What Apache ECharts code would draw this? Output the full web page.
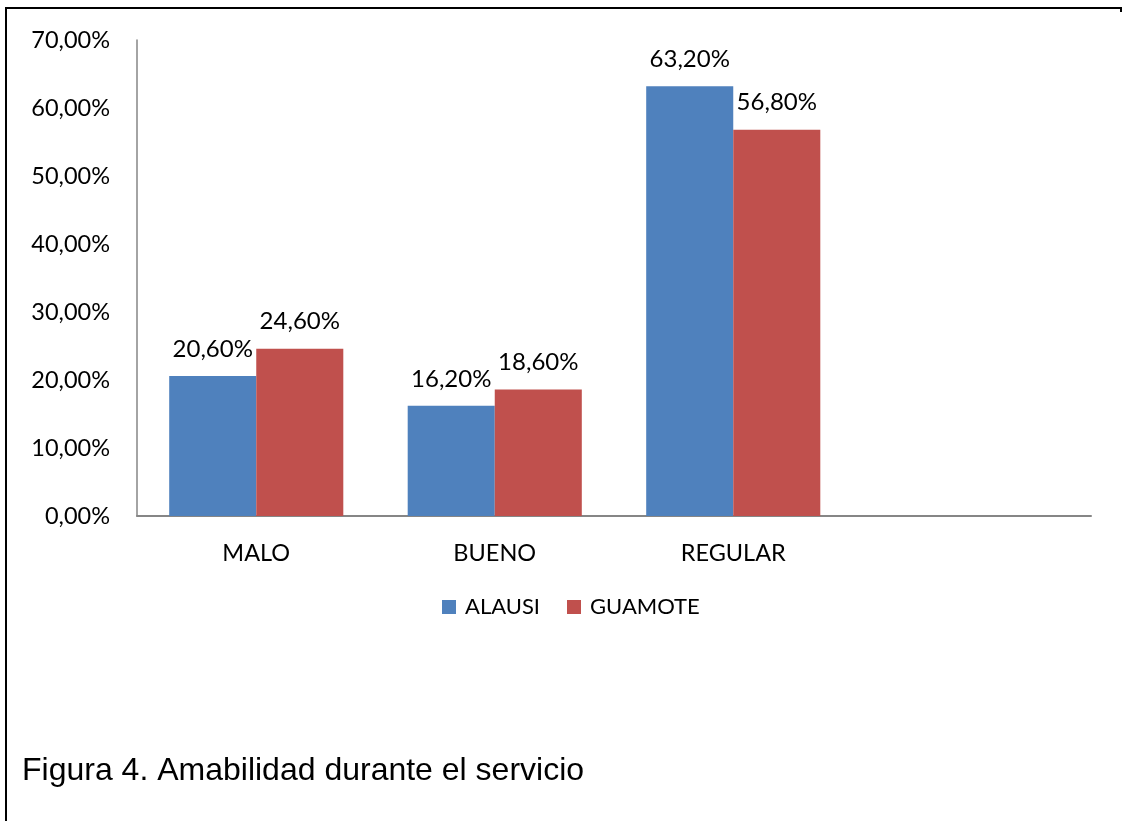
<!DOCTYPE html>
<html><head><meta charset="utf-8">
<script src="https://cdn.jsdelivr.net/npm/echarts@6/dist/echarts.min.js"></script>
<style>html,body{margin:0;padding:0;background:#fff}#c{width:1123px;height:821px}</style>
</head><body><div id="c"></div>
<script>
const categories = ['MALO', 'BUENO', 'REGULAR', ''];
const alausi = [20.6, 16.2, 63.2, '-'];
const guamote = [24.6, 18.6, 56.8, '-'];
const yTicks = {min: 0, max: 70, interval: 10};
const titleText = 'Figura 4. Amabilidad durante el servicio';

const fmt = v => v.toFixed(2).replace('.', ',') + '%';
const FONT = 'Lato';
const chart = echarts.init(document.getElementById('c'));
chart.setOption({
  animation: false,
  backgroundColor: '#fff',
  textStyle: {fontFamily: FONT},
  grid: {left: 137, right: 32, top: 40, bottom: 305, containLabel: false},
  legend: {
    data: ['ALAUSI', 'GUAMOTE'], top: 591, left: 437,
    itemWidth: 14, itemHeight: 14, itemGap: 27, icon: 'rect',
    textStyle: {fontFamily: FONT, fontSize: 22, color: '#000', padding: [0,0,0,4]}
  },
  xAxis: {
    type: 'category', data: categories,
    axisLine: {lineStyle: {color: '#868686', width: 2}},
    axisTick: {show: false},
    axisLabel: {fontFamily: FONT, fontSize: 23.5, color: '#000', margin: 25}
  },
  yAxis: {
    type: 'value', min: yTicks.min, max: yTicks.max, interval: yTicks.interval,
    axisLine: {show: true, lineStyle: {color: '#868686', width: 1.5}},
    axisTick: {show: false},
    splitLine: {show: false},
    axisLabel: {fontFamily: FONT, fontSize: 23.5, color: '#000', margin: 27, formatter: v => fmt(v)}
  },
  series: [
    {name: 'ALAUSI', type: 'bar', data: alausi, barGap: '0%', barCategoryGap: '27%',
     itemStyle: {color: '#4F81BD'},
     label: {show: true, position: 'top', distance: 15, fontFamily: FONT, fontSize: 24, color: '#000', formatter: p => fmt(p.value)}},
    {name: 'GUAMOTE', type: 'bar', data: guamote,
     itemStyle: {color: '#C0504D'},
     label: {show: true, position: 'top', distance: 15, fontFamily: FONT, fontSize: 24, color: '#000', formatter: p => fmt(p.value)}}
  ],
  graphic: [
    {type: 'line', shape: {x1: 6, y1: 8, x2: 6, y2: 821}, style: {stroke: '#000', lineWidth: 2}},
    {type: 'line', shape: {x1: 5, y1: 8, x2: 1122, y2: 8}, style: {stroke: '#000', lineWidth: 2}},
    {type: 'line', shape: {x1: 1121, y1: 8, x2: 1121, y2: 12}, style: {stroke: '#000', lineWidth: 2}},
    {type: 'text', left: 22, top: 755, style: {text: titleText, font: '32px "Liberation Sans"', fill: '#000'}}
  ]
});
</script></body></html>
